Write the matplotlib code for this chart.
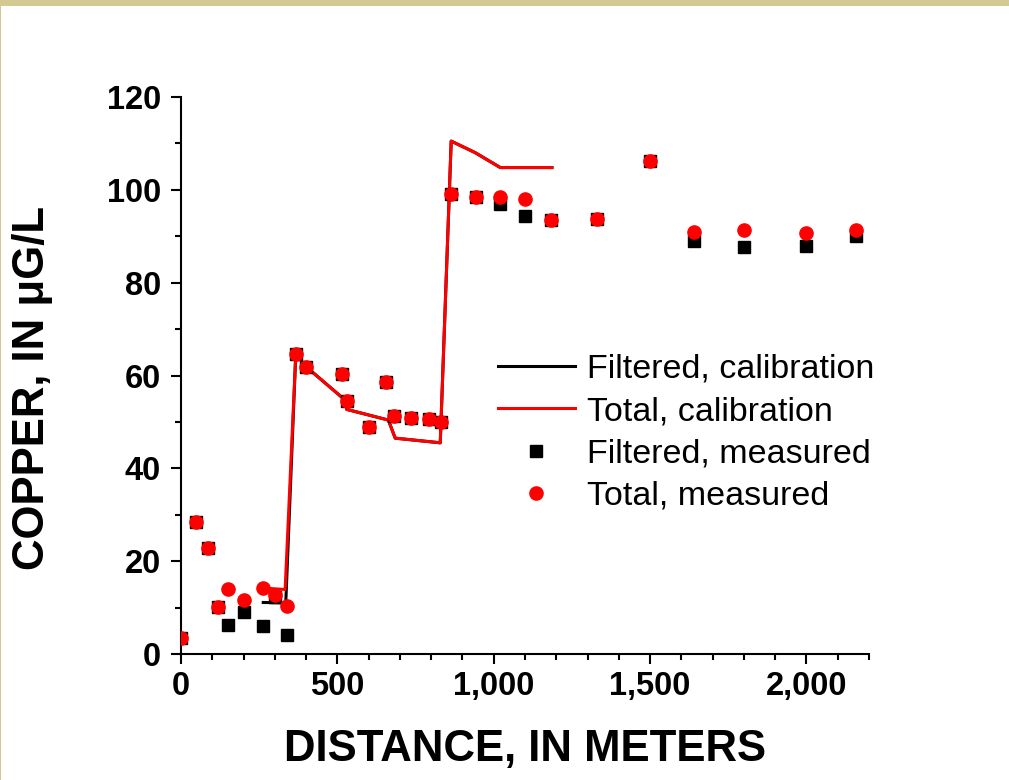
import matplotlib
matplotlib.use("Agg")
import matplotlib.pyplot as plt
from matplotlib.ticker import MultipleLocator, FuncFormatter
from matplotlib.patches import Rectangle

plt.rcParams['font.family'] = ['Liberation Sans', 'DejaVu Sans']

# Measured data
dist_meas = [0, 48, 85, 119, 151, 202, 263, 299, 338, 367, 400, 514, 530, 601, 656,
             681, 735, 794, 831, 864, 944, 1021, 1100, 1184, 1331, 1500, 1639, 1799,
             2000, 2160]
total_meas = [3.4, 28.4, 22.9, 10.1, 14.1, 11.6, 14.3, 12.7, 10.3, 64.6, 61.9, 60.3,
              54.4, 48.8, 58.7, 51.3, 50.8, 50.6, 50.0, 99.0, 98.4, 98.5, 98.1, 93.6,
              93.7, 106.2, 91.0, 91.4, 90.7, 91.4]
filt_meas = [3.4, 28.4, 22.9, 10.1, 6.2, 9.0, 6.0, 12.3, 4.1, 64.6, 61.9, 60.3,
             54.4, 48.8, 58.7, 51.3, 50.8, 50.6, 50.0, 99.0, 98.4, 96.9, 94.4, 93.6,
             93.7, 106.2, 89.0, 87.6, 88.0, 90.0]

# Calibration curves
dist_cal_filt = [263, 335, 367, 400, 530, 530, 663, 685, 829, 864, 941, 1021, 1186]
filt_cal = [11.1, 11.0, 64.6, 61.9, 54.4, 52.7, 50.4, 46.5, 45.5, 110.5, 108.0, 104.8, 104.8]
dist_cal_total = [263, 333, 367, 400, 530, 530, 663, 685, 829, 864, 941, 1021, 1186]
total_cal = [14.2, 13.9, 64.6, 61.9, 54.4, 52.7, 50.4, 46.5, 45.5, 110.5, 108.0, 104.8, 104.8]

W, H = 1009, 780
fig = plt.figure(figsize=(W / 100, H / 100), dpi=100)
fig.patch.set_facecolor('white')

# Decorative tan band at top and thin left border
tan = '#D4C893'
fig.patches.append(Rectangle((0, 1 - 6 / H), 1, 6 / H, transform=fig.transFigure,
                             facecolor=tan, edgecolor='none', zorder=0))
fig.patches.append(Rectangle((0, 0), 1.2 / W, 1, transform=fig.transFigure,
                             facecolor=tan, edgecolor='none', zorder=0))

ax = fig.add_axes([181 / W, (H - 654) / H, (869 - 181) / W, (654 - 97) / H])

ax.plot(dist_cal_filt, filt_cal, color='black', lw=2.2, label='Filtered, calibration', zorder=2)
ax.plot(dist_cal_total, total_cal, color='#FF0000', lw=2.2, label='Total, calibration', zorder=3)
ax.plot(dist_meas, filt_meas, linestyle='none', marker='s', color='black', markersize=8.5,
        label='Filtered, measured', zorder=4)
ax.plot(dist_meas, total_meas, linestyle='none', marker='o', color='#FF0000',
        markeredgecolor='#FF0000', markersize=9.5, label='Total, measured', zorder=5)

ax.set_xlim(0, 2200)
ax.set_ylim(0, 120)

for s in ['top', 'right']:
    ax.spines[s].set_visible(False)
for s in ['left', 'bottom']:
    ax.spines[s].set_linewidth(1.5)

ax.xaxis.set_major_locator(MultipleLocator(500))
ax.xaxis.set_minor_locator(MultipleLocator(100))
ax.yaxis.set_major_locator(MultipleLocator(20))
ax.yaxis.set_minor_locator(MultipleLocator(10))
ax.xaxis.set_major_formatter(FuncFormatter(lambda v, p: f'{v:,.0f}'))

ax.tick_params(which='major', direction='out', length=7.5, width=1.5,
               labelsize=23.5, pad=5)
ax.tick_params(axis='y', which='major', pad=7)
ax.tick_params(which='minor', direction='out', length=4, width=1.5)
for lbl in ax.get_xticklabels() + ax.get_yticklabels():
    lbl.set_fontweight('bold')

fig.text(525 / W, 1 - 750 / H, 'DISTANCE, IN METERS', ha='center', va='center',
         fontsize=31.5, fontweight='bold')
fig.text(33 / W, 1 - 388 / H, 'COPPER, IN \u03bcG/L', ha='center', va='center',
         rotation=90, fontsize=31.5, fontweight='bold')

leg = ax.legend(loc='upper left', bbox_to_anchor=(498 / W, 1 - 354 / H),
                bbox_transform=fig.transFigure, frameon=False, fontsize=24.5,
                borderpad=0, borderaxespad=0, handlelength=2.25, handletextpad=0.36,
                labelspacing=0.33, numpoints=1)

fig.savefig('out.png', dpi=100, facecolor='white')
